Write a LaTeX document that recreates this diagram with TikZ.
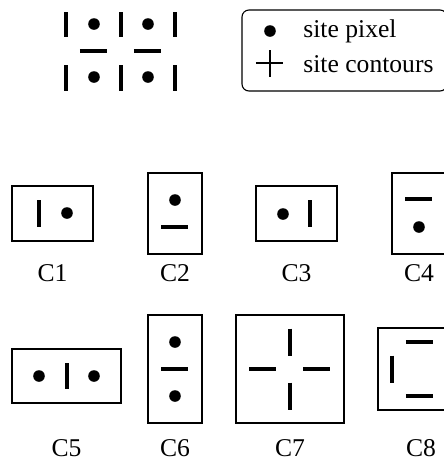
\documentclass[tikz,border=0pt]{standalone}
\usepackage{fontspec}
\setmainfont{Liberation Serif}

\begin{document}
\begin{tikzpicture}[x=0.5pt, y=-0.5pt, font=\fontsize{12.8}{15}\selectfont]
		\tikzstyle{cell} = [draw, line width=0.55pt, inner sep=0pt]
		\tikzstyle{bar} = [line width=1.7pt]
		\tikzstyle{tag} = [anchor=base, inner sep=0pt]
		\tikzstyle{legend} = [anchor=base west, inner sep=0pt]
		
		\useasboundingbox (0,0) rectangle (444,462);
		\clip (0,0) rectangle (444,462);
		
		% lattice: pixels and contours
		\draw[bar] (66,12) -- (66,37) (121,12) -- (121,37) (175,12) -- (175,37);
		\draw[bar] (66,65) -- (66,91) (121,65) -- (121,91) (175,65) -- (175,91);
		\draw[bar] (80,51) -- (107,51) (134,51) -- (161,51);
		\fill (94,24) circle (2.9pt) (148,24) circle (2.9pt);
		\fill (94,77) circle (2.9pt) (148,77) circle (2.9pt);
		
		% legend
		\draw[rounded corners=3.5pt, line width=0.55pt] (242,10) rectangle (447,91);
		\fill (270,31) circle (2.9pt);
		\draw[line width=1pt] (256,63) -- (283,63) (270,50) -- (270,77);
		\node[legend] (lpix) at (303,37) {site pixel};
		\node[legend] (lcont) at (303,72) {site contours};
		
		% cliques of order 2
		\node[cell, minimum width=40.5pt, minimum height=27.5pt] (c1) at (52.5,213.5) {};
		\draw[bar] (39,200) -- (39,227);
		\fill (67,213) circle (2.9pt);
		\node[tag] (t1) at (52.5,281) {C1};
		
		\node[cell, minimum width=27pt, minimum height=40.5pt] (c2) at (175,213.5) {};
		\fill (175,200) circle (2.9pt);
		\draw[bar] (161.5,227) -- (188.5,227);
		\node[tag] (t2) at (175,281) {C2};
		
		\node[cell, minimum width=40.5pt, minimum height=27.5pt] (c3) at (296.5,213.5) {};
		\fill (283,214) circle (2.9pt);
		\draw[bar] (310,200) -- (310,227);
		\node[tag] (t3) at (296.5,281) {C3};
		
		\node[cell, minimum width=27pt, minimum height=40.5pt] (c4) at (419,213.5) {};
		\draw[bar] (405.5,199) -- (432.5,199);
		\fill (419,227) circle (2.9pt);
		\node[tag] (t4) at (419,281) {C4};
		
		% cliques of order 3 and 4
		\node[cell, minimum width=54.5pt, minimum height=27pt] (c5) at (66.5,376) {};
		\fill (39,376) circle (2.9pt) (94,376) circle (2.9pt);
		\draw[bar] (67,363) -- (67,389);
		\node[tag] (t5) at (66.5,456) {C5};
		
		\node[cell, minimum width=27pt, minimum height=54pt] (c6) at (175,369) {};
		\fill (175,342) circle (2.9pt) (175,396) circle (2.9pt);
		\draw[bar] (161.5,369) -- (188.5,369);
		\node[tag] (t6) at (175,456) {C6};
		
		\node[cell, minimum width=54pt, minimum height=54pt] (c7) at (290,369) {};
		\draw[bar] (290,328.5) -- (290,355.5) (290,382.5) -- (290,409.5);
		\draw[bar] (249.5,369) -- (276.5,369) (303.5,369) -- (330.5,369);
		\node[tag] (t7) at (290,456) {C7};
		
		\node[cell, minimum width=41.5pt, minimum height=41pt] (c8) at (419.5,369) {};
		\draw[bar] (392,355.5) -- (392,382.5);
		\draw[bar] (406,342) -- (433,342) (406,396) -- (433,396);
		\node[tag] (t8) at (421,456) {C8};
	\end{tikzpicture}
\end{document}
